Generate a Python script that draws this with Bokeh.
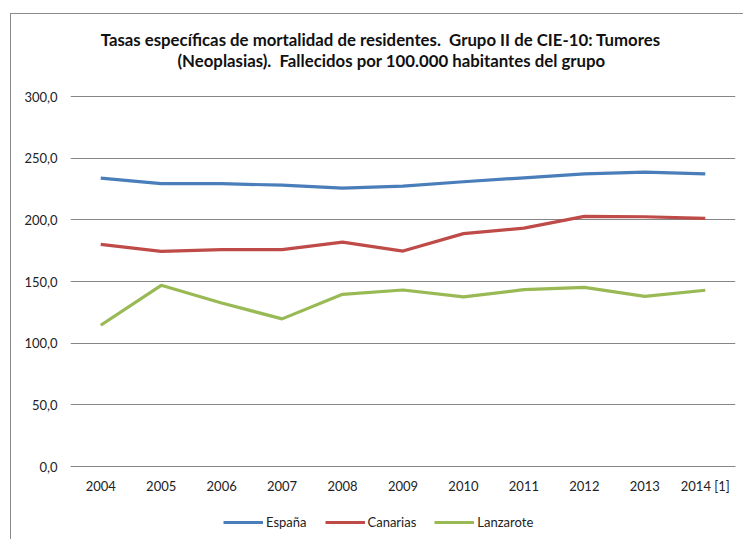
from bokeh.plotting import figure
from bokeh.models import (FactorRange, Range1d, FixedTicker, Legend, LegendItem, Label, ColumnDataSource)
from bokeh.embed import file_html
from bokeh.resources import INLINE

years = ["2004", "2005", "2006", "2007", "2008", "2009", "2010", "2011", "2012", "2013", "2014 [1]"]
espana = [233.8, 229.3, 229.3, 228.1, 225.7, 227.3, 230.9, 234.1, 237.3, 238.7, 237.3]
canarias = [180.1, 174.5, 175.8, 175.8, 182.0, 174.7, 188.8, 193.3, 202.8, 202.5, 201.2]
lanzarote = [114.5, 146.9, 132.6, 119.7, 139.6, 143.1, 137.5, 143.4, 145.3, 138.0, 142.9]
y_ticks = [0, 50, 100, 150, 200, 250, 300]
y_tick_labels = ["0,0", "50,0", "100,0", "150,0", "200,0", "250,0", "300,0"]
series_names = ["España", "Canarias", "Lanzarote"]
title_lines = ["Tasas específicas de mortalidad de residentes.\u00a0 Grupo II de CIE-10: Tumores",
               "(Neoplasias).\u00a0 Fallecidos por 100.000 habitantes del grupo"]

FONT = "Lato"
GRID = "#868686"
colors = ["#4A7EBB", "#BE4B48", "#98B954"]

# the frame covers the whole canvas height; the x axis is pinned at y = 0
Y_BOTTOM, Y_TOP = -60.0, 366.5
p = figure(width=733, height=526, output_backend="svg", toolbar_location=None,
           x_range=FactorRange(*years, range_padding=0), y_range=Range1d(Y_BOTTOM, Y_TOP),
           min_border_left=59, min_border_right=9, min_border_top=0, min_border_bottom=0)
p.styles = {"margin-top": "13px", "margin-left": "10px",
            "border-top": "1px solid #8c8c8c", "border-left": "1px solid #8c8c8c"}
p.outline_line_color = None
p.background_fill_color = "white"
p.border_fill_color = "white"

src = ColumnDataSource(dict(x=years, esp=espana, can=canarias, lan=lanzarote))
r1 = p.line("x", "esp", source=src, line_color=colors[0], line_width=3.2)
r2 = p.line("x", "can", source=src, line_color=colors[1], line_width=3.2)
r3 = p.line("x", "lan", source=src, line_color=colors[2], line_width=3.2)

p.xgrid.grid_line_color = None
p.ygrid.grid_line_color = GRID
p.ygrid.grid_line_width = 1
p.yaxis.ticker = FixedTicker(ticks=y_ticks)
p.ygrid.ticker = FixedTicker(ticks=y_ticks)
p.yaxis.major_label_overrides = {t: l for t, l in zip(y_ticks, y_tick_labels)}
p.yaxis.axis_line_color = None
p.yaxis.major_tick_line_color = None
p.yaxis.minor_tick_line_color = None
p.yaxis.major_tick_out = 0
p.yaxis.major_label_standoff = 13

p.xaxis.fixed_location = 0
p.xaxis.axis_line_color = GRID
p.xaxis.axis_line_width = 1
p.xaxis.major_tick_line_color = None
p.xaxis.minor_tick_line_color = None
p.xaxis.major_tick_out = 0
p.xaxis.major_label_standoff = 11

for ax in (p.xaxis, p.yaxis):
    ax.major_label_text_font = FONT
    ax.major_label_text_font_size = "13px"
    ax.major_label_text_color = "#222222"

legend = Legend(items=[LegendItem(label=series_names[0], renderers=[r1]),
                       LegendItem(label=series_names[1], renderers=[r2]),
                       LegendItem(label=series_names[2], renderers=[r3])],
                orientation="horizontal", location=(153, 10),
                padding=0, margin=0, spacing=18, glyph_width=40, glyph_height=16,
                label_height=16, label_standoff=3,
                label_text_font=FONT, label_text_font_size="13px", label_text_color="#222222",
                background_fill_alpha=0, border_line_color=None)
p.add_layout(legend, "center")

title_x = [5.13, 5.31]
title_y = [346.4, 329.4]
for i, t in enumerate(title_lines):
    p.add_layout(Label(x=title_x[i], y=title_y[i], text=t,
                       text_align="center", text_baseline="middle",
                       text_font=FONT, text_font_style="bold",
                       text_font_size="16.8px", text_color="#111111"))

open("out.html", "w").write(file_html(p, INLINE))
